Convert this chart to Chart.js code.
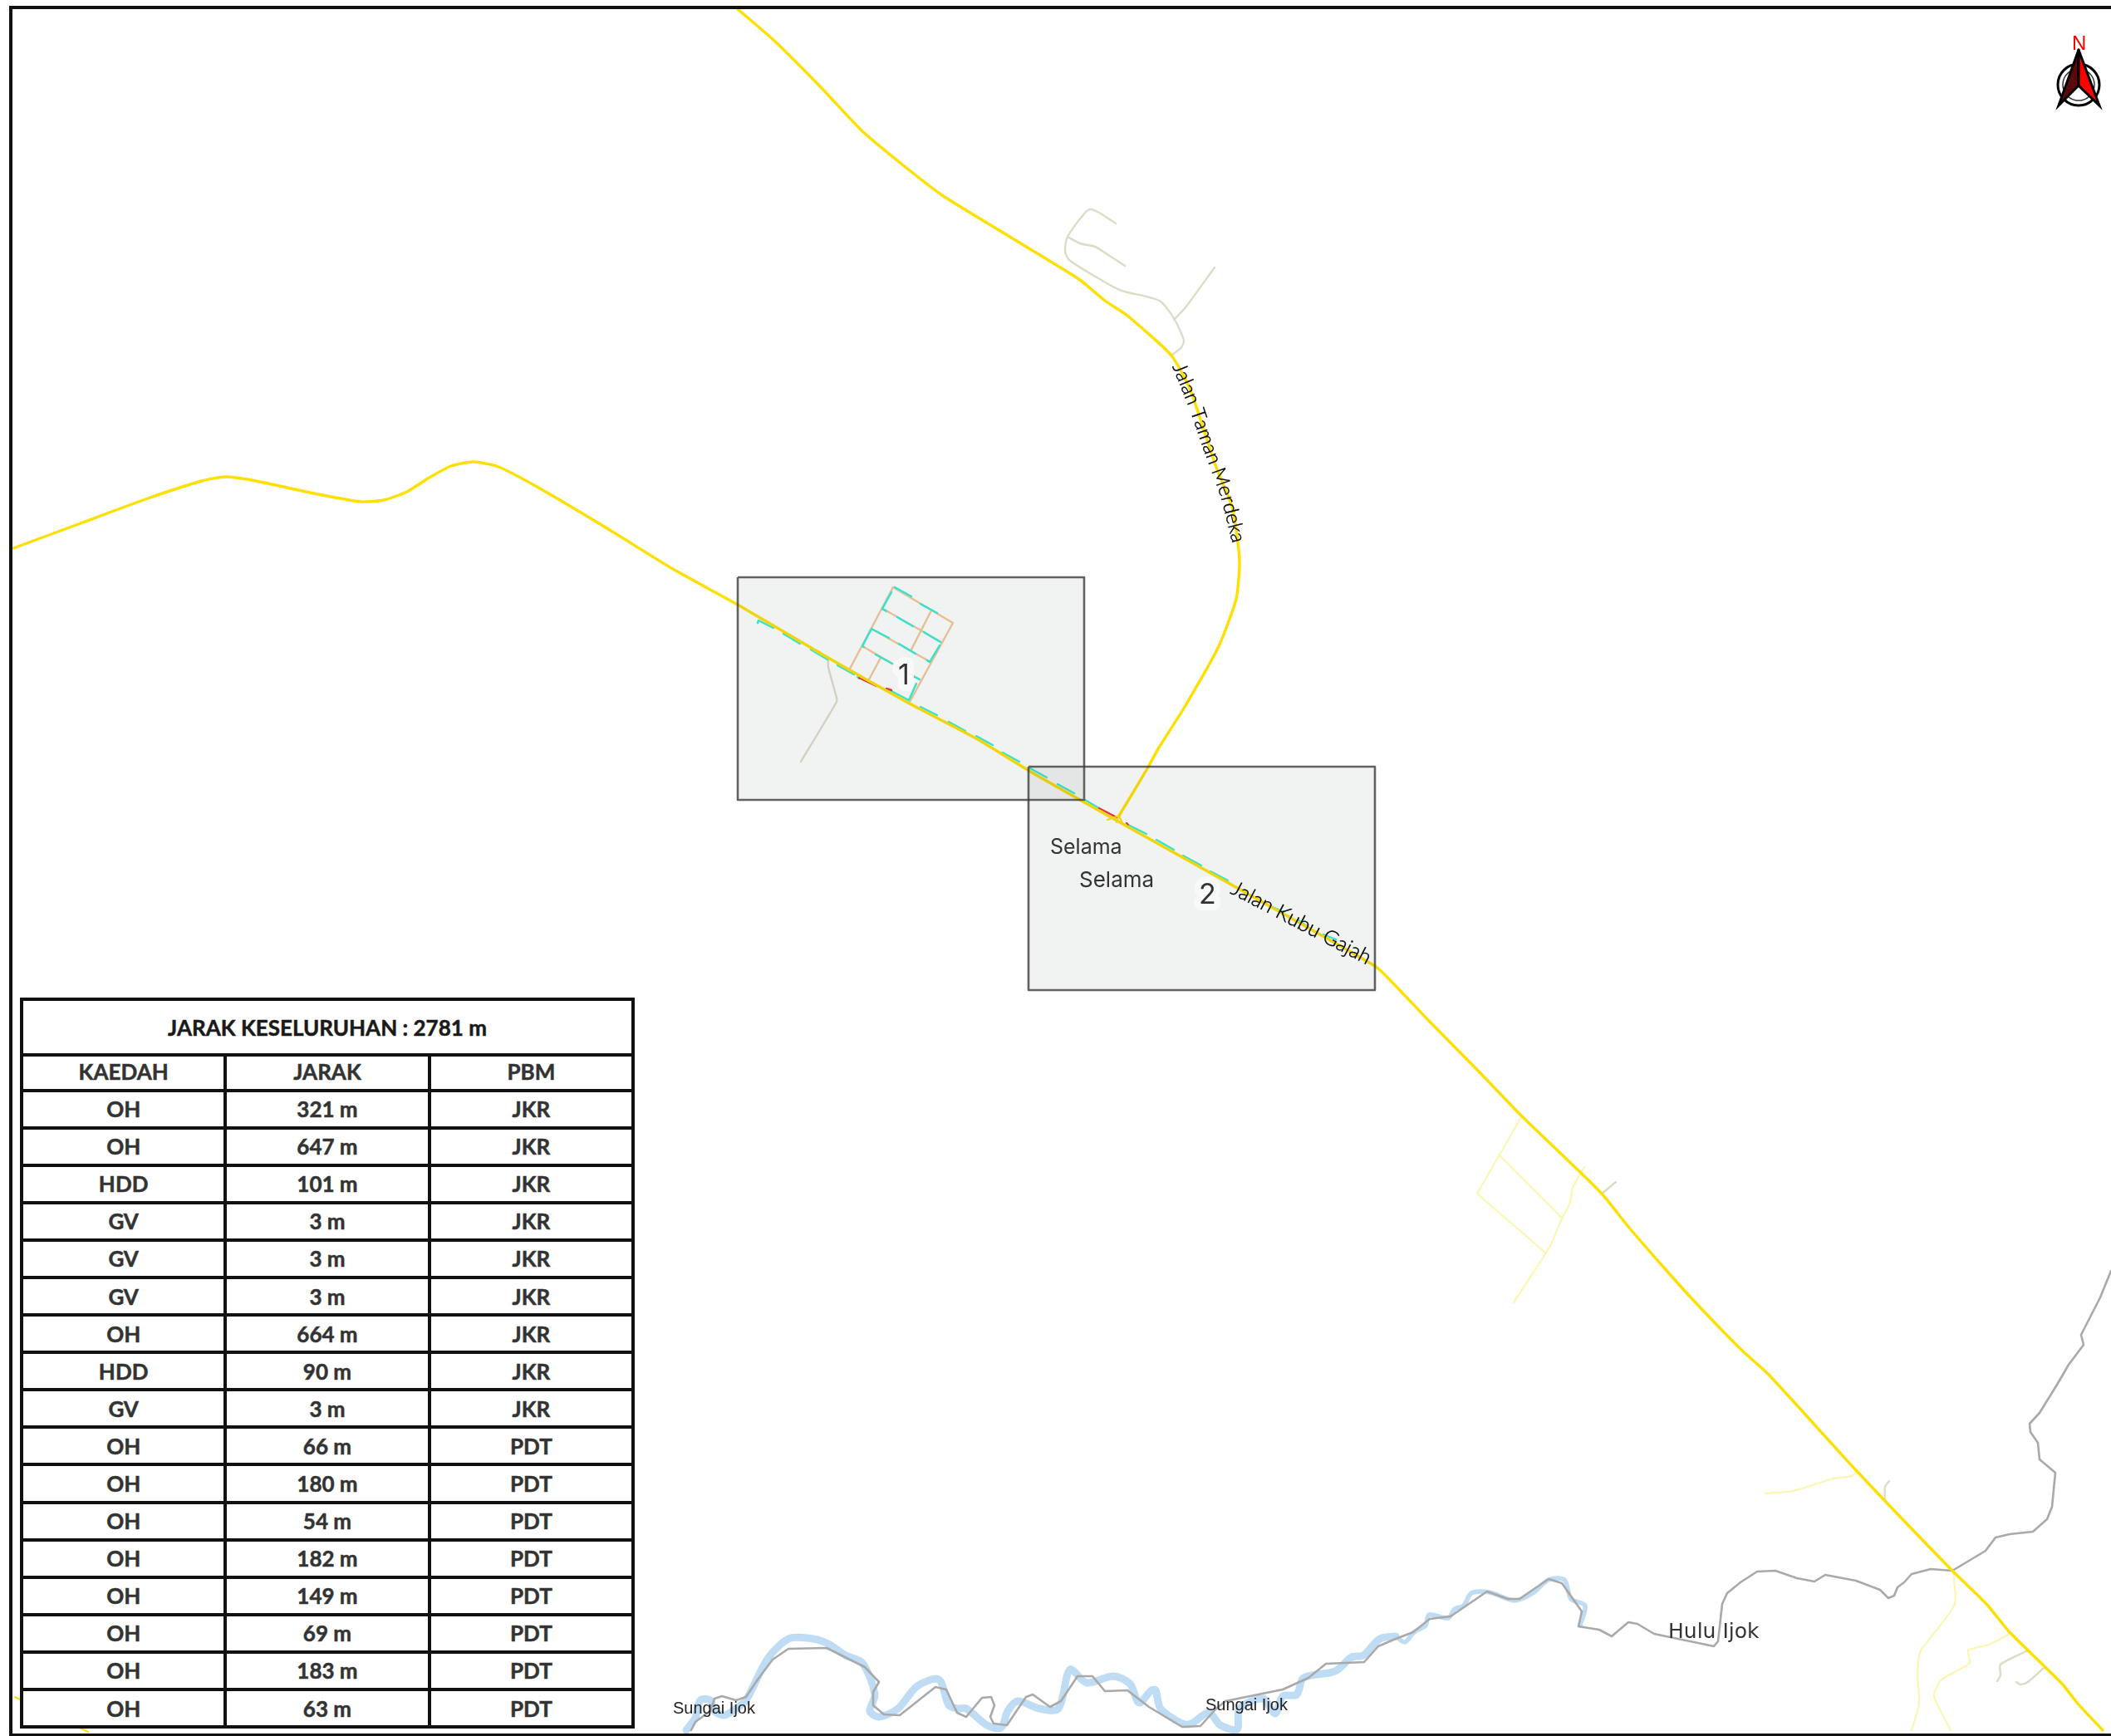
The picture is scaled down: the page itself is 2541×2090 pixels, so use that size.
<!DOCTYPE html>
<html>
<head>
<meta charset="utf-8">
<title>Peta laluan</title>
<script src="https://cdn.jsdelivr.net/npm/chart.js@4"></script>
<style>
  html, body { margin: 0; padding: 0; background: #fff; }
  #wrap { position: relative; width: 2541px; height: 2090px; overflow: hidden; }
  canvas { position: absolute; left: 0; top: 0; }
  #summary { position: absolute; left: 24px; top: 1201px; width: 740px; border-collapse: collapse; table-layout: fixed; background: #fff;
    font-family: Lato, sans-serif; font-weight: 700; color: #333; font-size: 26px; text-align: center; -webkit-text-stroke: 0.5px #333; }
  #summary td, #summary th { border: 4px solid #111; padding: 0; font-weight: 700; box-sizing: border-box; }
  #summary th { padding-bottom: 3px; }
  #summary tr { height: 45.1px; }
  #summary tr.top { height: 67px; }
  #summary tr.head { height: 42.5px; }
  #summary tr.top td { color: #1a1a1a; -webkit-text-stroke: 0.5px #1a1a1a; }
</style>
</head>
<body>
<div id="wrap">
  <canvas id="map" width="2541" height="2090"></canvas>
  <table id="summary"></table>
</div>
<script>
const tableTitle = 'JARAK KESELURUHAN : 2781 m';
const tableHeads = ['KAEDAH', 'JARAK', 'PBM'];
const kaedah = ['OH', 'OH', 'HDD', 'GV', 'GV', 'GV', 'OH', 'HDD', 'GV', 'OH', 'OH', 'OH', 'OH', 'OH', 'OH', 'OH', 'OH'];
const jarak = [321, 647, 101, 3, 3, 3, 664, 90, 3, 66, 180, 54, 182, 149, 69, 183, 63];
const pbm = ['JKR', 'JKR', 'JKR', 'JKR', 'JKR', 'JKR', 'JKR', 'JKR', 'JKR', 'PDT', 'PDT', 'PDT', 'PDT', 'PDT', 'PDT', 'PDT', 'PDT'];

// map lines, null breaks a line
const roadKubuGajah = [[16, 660], [97, 630], [178, 600], [243, 579], [272, 574], [308, 579], [373, 593], [434, 604], [462, 602], [490, 592], [515, 576], [543, 561], [570, 556], [600, 562], [648, 587], [729, 635], [810, 685], [888, 728], [997, 792], [1093, 846], [1175, 889], [1237, 927], [1300, 963], [1348, 990], [1655, 1163], [1680, 1187], [1718, 1227], [1782, 1292], [1831, 1343], [1880, 1390], [1928, 1437], [1961, 1478], [2001, 1524], [2037, 1564], [2095, 1624], [2130, 1656], [2235, 1771], [2350, 1891], [2391, 1931], [2419, 1965], [2482, 2027], [2501, 2051], [2531, 2083]];
const roadTamanMerdeka = [[888, 11], [932, 49], [988, 105], [1037, 157], [1086, 198], [1134, 235], [1199, 275], [1260, 312], [1300, 337], [1330, 362], [1357, 380], [1410, 428], [1433, 470], [1463, 560], [1483, 610], [1490, 653], [1492, 680], [1488, 721], [1467, 778], [1426, 851], [1395, 900], [1380, 927], [1347, 982]];
const roadJunction = [[1333, 987], [1347, 982], [1352, 993], null, [1347, 982], [1344, 990], null, [18, 2043], [106, 2085]];
const khakiRoads = [[1410, 428], [1422, 418], [1425, 410], [1413, 383], [1397, 363], [1380, 357], [1350, 350], [1327, 338], [1287, 313], [1282, 302], [1285, 285], [1307, 255], [1313, 252], [1323, 256], [1343, 269], null,
  [1285, 285], [1300, 293], [1318, 297], [1328, 303], [1354, 320], null,
  [1413, 385], [1427, 370], [1462, 322], null,
  [997, 792], [997, 803], [1007, 840], [1007, 845], [964, 917], null,
  [2441, 1987], [2408, 2004], [2408, 2017], [2404, 2024], null,
  [2460, 2008], [2441, 2025], [2432, 2028], [2427, 2025], null,
  [2269, 1805], [2269, 1790], [2274, 1783], null,
  [1928, 1437], [1945, 1423]];
const paleRoads = [[1831, 1345], [1778, 1437], null,
  [1804, 1390], [1881, 1467], null,
  [1778, 1437], [1860, 1508], null,
  [1907, 1405], [1893, 1430], [1890, 1448], [1880, 1467], [1866, 1500], [1822, 1568], null,
  [2351, 1891], [2353, 1931], [2325, 1970], [2311, 1989], [2308, 2016], [2310, 2051], [2301, 2083], null,
  [2419, 1967], [2394, 1980], [2369, 1987], [2371, 2002], [2336, 2023], [2328, 2042], [2348, 2083], null,
  [2125, 1798], [2158, 1795], [2207, 1780], [2229, 1777], [2236, 1771]];
const riverWide = [[826, 2083], [837, 2068], [843, 2047], [855, 2047], [860, 2060], [872, 2065], [886, 2057], [898, 2047], [924, 1997], [949, 1973], [972, 1972], [995, 1978], [1018, 1993], [1038, 2002], [1053, 2040], [1047, 2060], [1058, 2067], [1081, 2057], [1104, 2030], [1130, 2022], [1142, 2053], [1153, 2057], [1163, 2057], [1188, 2077], [1205, 2080], [1213, 2060], [1225, 2048], [1251, 2057], [1274, 2057], [1288, 2010], [1308, 2026], [1340, 2018], [1360, 2027], [1371, 2050], [1386, 2035], [1391, 2035], [1397, 2057], [1423, 2075], [1434, 2075], [1455, 2062], [1469, 2077], [1489, 2082], [1492, 2057], [1520, 2045], [1535, 2063], [1544, 2042], [1561, 2040], [1569, 2020], [1607, 2012], [1627, 1995], [1641, 1993], [1661, 1973], [1680, 1970]];
const riverNarrow = [[1680, 1970], [1691, 1977], [1702, 1965], [1716, 1957], [1720, 1944], [1743, 1948], [1751, 1937], [1762, 1933], [1771, 1918], [1793, 1917], [1823, 1927], [1845, 1918], [1864, 1902], [1883, 1902], [1891, 1925], [1908, 1933], [1902, 1957]];
const greyLine = [[832, 2083], [837, 2073], [855, 2060], [860, 2045], [869, 2042], [886, 2047], [898, 2043], [912, 2022], [930, 1998], [949, 1985], [995, 1984], [1041, 2007], [1058, 2025], [1051, 2037], [1051, 2053], [1064, 2064], [1083, 2065], [1126, 2031], [1139, 2034], [1152, 2062], [1163, 2067], [1182, 2044], [1193, 2043], [1197, 2053], [1192, 2067], [1196, 2075], [1212, 2077], [1235, 2043], [1243, 2040], [1264, 2055], [1277, 2048], [1297, 2018], [1315, 2018], [1330, 2036], [1357, 2035], [1383, 2055], [1423, 2079], [1445, 2078], [1463, 2058], [1475, 2048], [1544, 2034], [1575, 2020], [1596, 2003], [1642, 2001], [1659, 1982], [1680, 1973], [1701, 1965], [1721, 1949], [1746, 1946], [1790, 1916], [1815, 1925], [1829, 1925], [1864, 1901], [1880, 1906], [1904, 1940], [1900, 1958], [1925, 1962], [1940, 1970], [1960, 1953], [1971, 1955], [1991, 1967], [2063, 1982], [2068, 1976], [2073, 1931], [2079, 1918], [2095, 1905], [2115, 1892], [2137, 1891], [2163, 1900], [2184, 1904], [2197, 1896], [2234, 1903], [2263, 1914], [2273, 1924], [2280, 1921], [2284, 1911], [2292, 1905], [2301, 1895], [2324, 1889], [2350, 1891], [2390, 1867], [2402, 1851], [2419, 1847], [2447, 1844], [2464, 1829], [2470, 1814], [2474, 1773], [2455, 1757], [2453, 1737], [2444, 1724], [2443, 1714], [2455, 1701], [2476, 1667], [2490, 1643], [2508, 1619], [2505, 1607], [2528, 1562], [2541, 1530]];
const routeOrange = [[1023, 805], [1075, 707], [1147, 750], [1095, 845], null,
  [1063, 733], [1133, 773], null, [1049, 757], [1120, 797], null, [1038, 778], [1107, 818], null,
  [1121, 735], [1097, 782], null, [1060, 792], [1046, 818]];
const routeCyan = [[1077, 707], [1097, 718], null, [1108, 727], [1128, 738], null, [1073, 713], [1062, 733], [1067, 736], null, [1080, 743], [1099, 754], null, [1112, 761], [1132, 773], null, [1049, 757], [1070, 768], null, [1049, 757], [1038, 778], [1040, 779], null, [1082, 775], [1102, 787], null, [1131, 777], [1119, 797], [1116, 795], null, [1054, 788], [1074, 799], null, [1101, 815], [1107, 818], null, [1103, 823], [1094, 843], [1073, 832], null,
  [912, 750], [913, 747], [931, 756], null, [943, 763], [963, 775], null, [976, 782], [996, 794], null, [1008, 801], [1028, 812], null, [1032, 815], [1034, 817], null,
  [1108, 851], [1128, 861], null, [1142, 869], [1162, 880], null, [1175, 886], [1195, 897], null, [1207, 906], [1227, 917], null, [1240, 925], [1260, 936], null, [1273, 944], [1293, 955], null, [1306, 963], [1323, 973], null,
  [1358, 993], [1380, 1004], null, [1392, 1011], [1413, 1023], null, [1424, 1030], [1446, 1042], null, [1457, 1049], [1478, 1060], null, [1530, 1091], [1545, 1098], null, [1563, 1108], [1580, 1120], null, [1593, 1125], [1608, 1131]];
const routeRed = [[1034, 816], [1055, 826], null, [1067, 829], [1073, 831], null, [1323, 973], [1344, 984], null, [1356, 991], [1358, 993]];
const grid1 = [[888, 695], [1305, 695], [1305, 963], [888, 963], [888, 695]];
const grid2 = [[1238, 923], [1655, 923], [1655, 1192], [1238, 1192], [1238, 923]];
const frame = [[2541, 9], [13, 9], [13, 2089], [2541, 2089]];
const arrowLeft = [[2502, 60], [2502, 103], [2478, 127], [2502, 60]];
const arrowRight = [[2502, 60], [2527, 127], [2502, 103], [2502, 60]];
const compassCentre = [[2502, 102]];

const placeNames = ['Selama', 'Selama', 'Hulu Ijok', 'Sungai Ijok', 'Sungai Ijok', '1', '2', 'N'];
const placeX = [1264, 1299, 2008, 810, 1451, 1081, 1443, 2494];
const placeY = [1028, 1068, 1972, 2063, 2059, 824, 1088, 60];
const labelKubu = 'Jalan Kubu Gajah';
const pathKubu = [[1480, 1075], [1646, 1162]];
const labelMerdeka = 'Jalan Taman Merdeka';
const pathMerdeka = [[1411, 441], [1431, 490], [1450, 545], [1470, 600], [1483, 652]];

const placeFonts = ['400 25px Inter', '400 26px Inter', '400 25px "DejaVu Sans"', '400 20px "Liberation Sans"', '400 20px "Liberation Sans"', '400 34px Inter', '400 34px Inter', '400 24px "Liberation Sans"'];
const placeColors = ['#333', '#333', '#333', '#222', '#222', '#333', '#333', '#f00'];

function pts(list) {
  return list.map(p => (p ? { x: p[0], y: p[1] } : { x: null, y: null }));
}

function layer(list, color, width, extra) {
  return Object.assign({ data: pts(list), borderColor: color, borderWidth: width, showLine: true, pointRadius: 0, tension: 0, fill: false, borderJoinStyle: 'round', borderCapStyle: 'round' }, extra);
}

const layers = [
  layer(riverWide, '#bedcf4', 9, { tension: 0.3 }),
  layer(riverNarrow, '#bedcf4', 5.5, { tension: 0.3 }),
  layer(greyLine, '#a9a9a9', 2.6),
  layer(paleRoads, '#fdf5b2', 2.2, { tension: 0.2 }),
  layer(khakiRoads, '#dcdcc6', 2.4, { tension: 0.25 }),
  layer(routeOrange, '#f2c797', 2.4),
  layer(routeCyan, '#2ff0d8', 2.4),
  layer(routeRed, '#f2303a', 2.4),
  layer(roadKubuGajah, '#fde000', 3.4, { tension: 0.2 }),
  layer(roadTamanMerdeka, '#fde000', 3.4, { tension: 0.2 }),
  layer(roadJunction, '#fde000', 2),
  layer(grid1, 'rgba(60,60,60,0.8)', 2.6, { fill: 'shape', backgroundColor: 'rgba(90,110,110,0.085)', borderCapStyle: 'butt' }),
  layer(grid2, 'rgba(60,60,60,0.8)', 2.6, { fill: 'shape', backgroundColor: 'rgba(90,110,110,0.085)', borderCapStyle: 'butt' }),
  { data: pts(compassCentre), pointRadius: 25, pointStyle: 'circle', pointBorderColor: '#000', pointBorderWidth: 3, pointBackgroundColor: 'rgba(0,0,0,0)', showLine: false },
  { data: pts(compassCentre), pointRadius: 19, pointStyle: 'circle', pointBorderColor: '#333', pointBorderWidth: 1.5, pointBackgroundColor: 'rgba(0,0,0,0)', showLine: false },
  layer(arrowLeft, '#000', 3, { fill: 'shape', backgroundColor: '#5a0a0a', borderJoinStyle: 'miter' }),
  layer(arrowRight, '#000', 3, { fill: 'shape', backgroundColor: '#f00', borderJoinStyle: 'miter' }),
  layer(frame, '#111', 4, { borderCapStyle: 'butt', borderJoinStyle: 'miter' })
];
layers.forEach((d, i) => { d.order = -i; d.clip = false; });

// draws one string letter by letter along a polyline
function textOnPath(ctx, text, path, x, y, font, color) {
  const p = path.map(q => [x.getPixelForValue(q[0]), y.getPixelForValue(q[1])]);
  ctx.save();
  ctx.font = font;
  ctx.fillStyle = color;
  ctx.strokeStyle = color;
  ctx.lineWidth = 0.4;
  ctx.textBaseline = 'alphabetic';
  let seg = 0, used = 0;
  for (const ch of text) {
    const w = ctx.measureText(ch).width;
    let target = used + w / 2;
    while (seg < p.length - 2 && target > Math.hypot(p[seg + 1][0] - p[seg][0], p[seg + 1][1] - p[seg][1])) {
      const len = Math.hypot(p[seg + 1][0] - p[seg][0], p[seg + 1][1] - p[seg][1]);
      target -= len;
      used -= len;
      seg++;
    }
    const dx = p[seg + 1][0] - p[seg][0], dy = p[seg + 1][1] - p[seg][1];
    const len = Math.hypot(dx, dy);
    ctx.save();
    ctx.translate(p[seg][0] + dx / len * target, p[seg][1] + dy / len * target);
    ctx.rotate(Math.atan2(dy, dx));
    ctx.textAlign = 'center';
    ctx.fillText(ch, 0, 0);
    ctx.strokeText(ch, 0, 0);
    ctx.restore();
    used += w;
  }
  ctx.restore();
}

const mapText = {
  id: 'mapText',
  afterDatasetsDraw(chart) {
    const { ctx, scales: { x, y } } = chart;
    ctx.save();
    placeNames.forEach((name, i) => {
      ctx.font = placeFonts[i];
      ctx.textAlign = 'left';
      ctx.textBaseline = 'alphabetic';
      const px = x.getPixelForValue(placeX[i]), py = y.getPixelForValue(placeY[i]);
      if (name === '1' || name === '2') {
        ctx.strokeStyle = 'rgba(250,251,251,0.9)';
        ctx.lineWidth = 16;
        ctx.lineJoin = 'round';
        ctx.strokeText(name, px, py);
      }
      ctx.fillStyle = placeColors[i];
      ctx.fillText(name, px, py);
    });
    ctx.restore();
    textOnPath(ctx, labelKubu, pathKubu, x, y, '300 25px Lato', '#000');
    textOnPath(ctx, labelMerdeka, pathMerdeka, x, y, '300 24px Lato', '#000');
  }
};

new Chart(document.getElementById('map'), {
  type: 'scatter',
  data: { datasets: layers },
  options: {
    responsive: false,
    animation: false,
    devicePixelRatio: 1,
    layout: { padding: 0, autoPadding: false },
    plugins: { legend: { display: false }, title: { display: false }, tooltip: { enabled: false } },
    scales: {
      x: { type: 'linear', min: 0, max: 2541, display: false },
      y: { type: 'linear', min: 0, max: 2090, reverse: true, display: false }
    }
  },
  plugins: [mapText]
});

const table = document.getElementById('summary');
let rows = `<tr class="top"><td colspan="3">${tableTitle}</td></tr>`;
rows += '<tr class="head">' + tableHeads.map(h => `<th>${h}</th>`).join('') + '</tr>';
kaedah.forEach((k, i) => {
  rows += `<tr><td>${k}</td><td>${jarak[i]} m</td><td>${pbm[i]}</td></tr>`;
});
table.innerHTML = rows;
</script>
</body>
</html>
